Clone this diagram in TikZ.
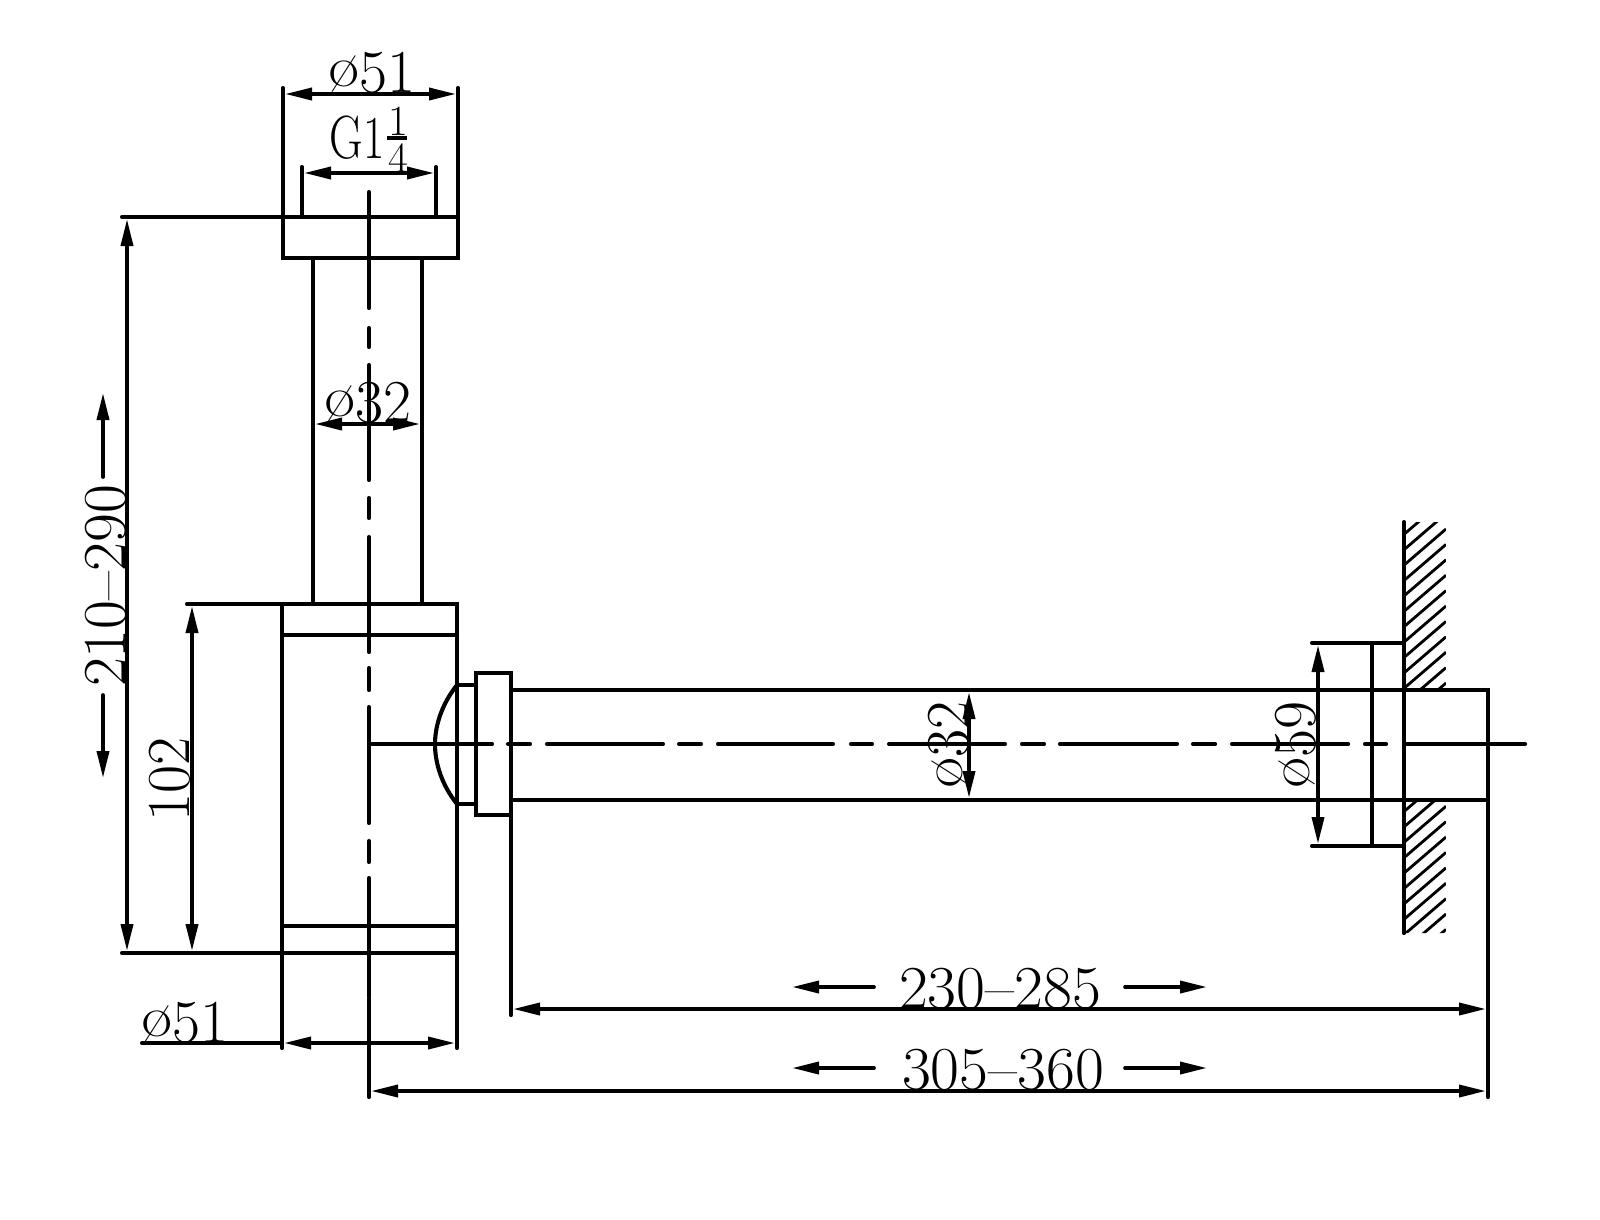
\documentclass[tikz,border=0pt]{standalone}
\usepackage{fontspec}
\usepackage{graphicx}
\usetikzlibrary{arrows.meta}
\newcommand\dia{\scalebox{1.12}[.95]{\raisebox{6pt}{ø}}}
\newcommand\sx[2]{\scalebox{#1}[1]{#2}}
\tikzset{
  part/.style={line width=4.1pt,line cap=round,line join=miter,black},
  centre/.style={line width=4.1pt,line cap=round,black},
  dimline/.style={line width=3.7pt,black,{Triangle[length=27pt,width=12pt]}-{Triangle[length=27pt,width=12pt]}},
  oneway/.style={line width=3.7pt,line cap=round,black,-{Triangle[length=27pt,width=12pt]}},
  hatchline/.style={line width=2.8pt,black},
  dimtext/.style={inner sep=0pt,anchor=base,font=\fontsize{61}{61}\selectfont},
  fractext/.style={inner sep=0pt,anchor=center,align=center,font=\fontsize{43}{37}\selectfont},
}
\begin{document}
\begin{tikzpicture}[x=1pt,y=-1pt]
\useasboundingbox[fill=white] (0,0) rectangle (1600,1219);

% hatching of the wall
\begin{scope}
  \clip (1404,522) rectangle (1446,690) (1404,800) rectangle (1446,933);
  \foreach \k in {-3,...,30}
    \draw[hatchline] (1446,{529+15.4*\k}) -- (1396,{529+15.4*\k+43});
\end{scope}

% centre lines
\foreach \a/\b in {192/308,328/347,365/480,498/518,537/652,668/690,707/823,841/862,878/997,999/1097}
  \draw[centre] (369,\a) -- (369,\b);
\foreach \a/\b in {369/492,508/530,547/663,679/701,718/833,851/872,889/1005,1022/1044,1060/1177,1193/1215,1232/1348,1365/1386,1405/1525}
  \draw[centre] (\a,744) -- (\b,744);

% top flange and riser
\draw[part] (283,217) rectangle (458,258);
\draw[part] (313,258) -- (313,604);
\draw[part] (422,258) -- (422,604);

% body
\draw[part] (282,604) rectangle (457,953);
\draw[part] (282,635) -- (457,635);
\draw[part] (282,926) -- (457,926);

% nut and dome
\draw[part] (457,685) -- (475,685);
\draw[part] (457,804) -- (475,804);
\draw[part] (457,685) .. controls (441,705) and (435,727) .. (435,744) .. controls (435,762) and (441,784) .. (457,804);
\draw[part] (476,673) rectangle (511,815);

% horizontal pipe, flange and wall
\draw[part] (511,690) -- (1488,690) -- (1488,800) -- (511,800);
\draw[part] (1372,643) -- (1372,846);
\draw[part] (1312,643) -- (1404,643);
\draw[part] (1312,846) -- (1404,846);
\draw[part] (1404,522) -- (1404,933);

% extension lines
\draw[part] (283,88) -- (283,217);
\draw[part] (458,88) -- (458,217);
\draw[part] (302,167) -- (302,217);
\draw[part] (436,167) -- (436,217);
\draw[part] (122,217) -- (283,217);
\draw[part] (187,604) -- (282,604);
\draw[part] (122,953) -- (282,953);
\draw[part] (282,953) -- (282,1048);
\draw[part] (457,953) -- (457,1048);
\draw[part] (142,1043) -- (282,1043);
\draw[part] (511,815) -- (511,1015);
\draw[part] (1488,800) -- (1488,1097);

% dimension lines
\draw[dimline] (285,94) -- (456,94);
\draw[dimline] (304,173) -- (434,173);
\draw[dimline] (315,424) -- (420,424);
\draw[dimline] (127,219) -- (127,951);
\draw[dimline] (192,606) -- (192,951);
\draw[dimline] (284,1043) -- (455,1043);
\draw[dimline] (969,692) -- (969,798);
\draw[dimline] (1318,645) -- (1318,844);
\draw[dimline] (513,1009) -- (1486,1009);
\draw[dimline] (371,1091) -- (1486,1091);

% range arrows
\draw[oneway] (103,477) -- (103,393);
\draw[oneway] (103,695) -- (103,778);
\draw[oneway] (874,987) -- (792,987);
\draw[oneway] (1125,987) -- (1207,987);
\draw[oneway] (874,1068) -- (792,1068);
\draw[oneway] (1125,1068) -- (1207,1068);

% fraction bar
\draw[line width=4.1pt,black] (387,138) -- (407,138);

% labels
\node[dimtext] (dtop) at (372,92) {\dia 51};
\node[dimtext] (gthread) at (357,158) {\sx{.76}{G1}};
\node[fractext] (frac) at (398,139.5) {1\\4};
\node[dimtext] (driser) at (368,422) {\dia 32};
\node[dimtext,rotate=90] (lenall) at (125,586) {\sx{1.03}{210–290}};
\node[dimtext,rotate=90] (lenbody) at (189,779) {102};
\node[dimtext] (dbody) at (185,1042) {\dia 51};
\node[dimtext] (lenpipe) at (1000,1008) {\sx{1.03}{230–285}};
\node[dimtext] (lentotal) at (1003,1089) {\sx{1.03}{305–360}};
\node[dimtext,rotate=90] (dpipe) at (968,745) {\dia 32};
\node[dimtext,rotate=90] (dflange) at (1315,745) {\dia 59};
\end{tikzpicture}
\end{document}
